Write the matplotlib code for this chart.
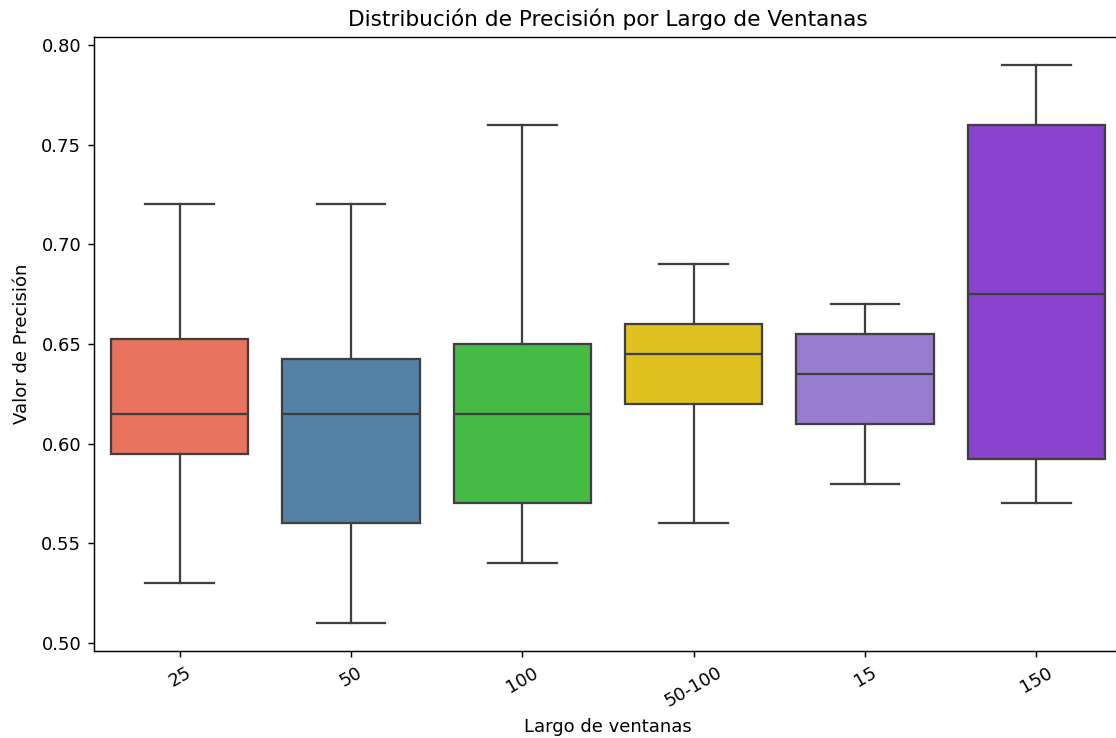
import matplotlib
matplotlib.use("Agg")
import matplotlib.pyplot as plt
import seaborn as sns

# Window lengths and precision summary statistics per group
categories = ["25", "50", "100", "50-100", "15", "150"]
whisker_low = [0.53, 0.51, 0.54, 0.56, 0.58, 0.57]
q1 = [0.595, 0.56, 0.57, 0.62, 0.61, 0.5925]
median = [0.615, 0.615, 0.615, 0.645, 0.635, 0.675]
q3 = [0.6525, 0.6425, 0.65, 0.66, 0.655, 0.76]
whisker_high = [0.72, 0.72, 0.76, 0.69, 0.67, 0.79]
palette = ["tomato", "steelblue", "limegreen", "gold", "mediumpurple", "blueviolet"]

stats = []
for lab, lo, a, m, b, hi in zip(categories, whisker_low, q1, median, q3, whisker_high):
    stats.append(dict(label=lab, whislo=lo, q1=a, med=m, q3=b, whishi=hi, fliers=[]))

DPI = 130
fig = plt.figure(figsize=(1116 / DPI, 738 / DPI), dpi=DPI)
ax = fig.add_axes([94 / 1116, 87 / 738, 1028 / 1116, 614 / 738])

line_kw = dict(color="#3f3f3f", linewidth=1.25)
bp = ax.bxp(stats, positions=range(len(categories)), widths=0.8, patch_artist=True,
            showfliers=False,
            boxprops=dict(edgecolor="#3f3f3f", linewidth=1.25),
            medianprops=line_kw, whiskerprops=line_kw, capprops=line_kw)
for patch, col in zip(bp["boxes"], palette):
    patch.set_facecolor(sns.desaturate(col, 0.75))

ax.set_xlim(-0.5, len(categories) - 0.5)
ax.margins(y=0.05)
ax.autoscale(axis="y")
ax.spines["right"].set_visible(False)
ax.set_xticks(range(len(categories)))
ax.set_xticklabels(categories, rotation=30)
ax.set_title("Distribución de Precisión por Largo de Ventanas")
ax.set_xlabel("Largo de ventanas")
ax.set_ylabel("Valor de Precisión", labelpad=5.5)

fig.savefig("out.png", dpi=DPI)
